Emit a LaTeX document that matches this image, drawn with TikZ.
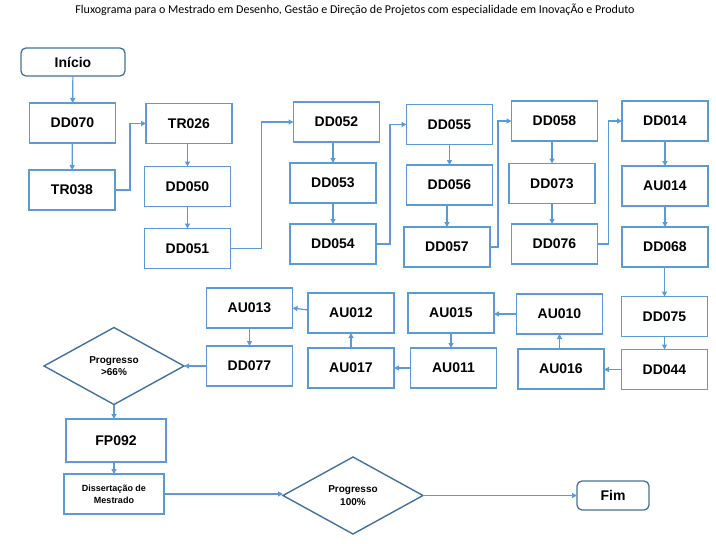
\documentclass[tikz,border=0pt]{standalone}
\usepackage{fontspec}
\setmainfont{Liberation Sans}
\newfontfamily\titlefont{Carlito}
\usetikzlibrary{shapes.geometric,arrows.meta}
\definecolor{boxblue}{HTML}{5B9BD5}
\definecolor{darkblue}{HTML}{41719C}
\begin{document}
\begin{tikzpicture}[x=1pt,y=-1pt,inner sep=0pt,outer sep=0pt,
block/.style={draw=boxblue,rectangle,line width=1.5pt,minimum width=86pt,minimum height=40pt,font=\fontsize{14}{16}\selectfont\bfseries},
startstop/.style={draw=darkblue,rectangle,rounded corners=5pt,line width=1.3pt,font=\fontsize{14}{16}\selectfont\bfseries},
decision/.style={draw=darkblue,diamond,aspect=1.82,line width=1.4pt,minimum width=140pt,minimum height=77pt,align=center,font=\fontsize{10}{12.7}\selectfont\bfseries},
arr/.style={-{Triangle[length=5pt,width=5pt]},draw=boxblue,line width=1.2pt}]
\useasboundingbox (0,0) rectangle (716,544);

\draw (355,10) node[font=\titlefont\fontsize{12}{14}\selectfont] (title) {Fluxograma para o Mestrado em Desenho, Gestão e Direção de Projetos com especialidade em InovaçÃo e Produto};

% primeira fila de colunas
\draw (73,62) node[startstop,minimum width=104pt,minimum height=28pt] (inicio) {Início};
\draw (72.5,123) node[block] (DD070) {DD070};
\draw (72,190) node[block] (TR038) {TR038};
\draw (189,123.5) node[block] (TR026) {TR026};
\draw (187.5,186.5) node[block] (DD050) {DD050};
\draw (187.5,248.5) node[block] (DD051) {DD051};
\draw (336.5,122) node[block] (DD052) {DD052};
\draw (333,183) node[block] (DD053) {DD053};
\draw (333,244) node[block] (DD054) {DD054};
\draw (449.5,124.5) node[block] (DD055) {DD055};
\draw (449.5,185) node[block] (DD056) {DD056};
\draw (447,247) node[block] (DD057) {DD057};
\draw (554.5,121) node[block] (DD058) {DD058};
\draw (552,183.5) node[block] (DD073) {DD073};
\draw (554.5,244) node[block] (DD076) {DD076};
\draw (665,121) node[block] (DD014) {DD014};
\draw (665,186) node[block] (AU014) {AU014};
\draw (665,247) node[block] (DD068) {DD068};

% fila de baixo, da direita para a esquerda
\draw (664.5,316.5) node[block] (DD075) {DD075};
\draw (664.5,369.5) node[block] (DD044) {DD044};
\draw (559.5,314) node[block] (AU010) {AU010};
\draw (561,369) node[block] (AU016) {AU016};
\draw (451,313) node[block] (AU015) {AU015};
\draw (453.5,368) node[block] (AU011) {AU011};
\draw (351,313) node[block] (AU012) {AU012};
\draw (351,368) node[block] (AU017) {AU017};
\draw (249.5,308) node[block] (AU013) {AU013};
\draw (249.5,366) node[block] (DD077) {DD077};
\draw (114,366) node[decision] (prog66) {Progresso\\>66\%};
\draw (116,440.5) node[block,minimum width=100pt,minimum height=43pt] (FP092) {FP092};
\draw (114,494) node[block,minimum width=100pt,align=center,font=\fontsize{9}{12}\selectfont\bfseries] (dissert) {Dissertação de\\Mestrado};
\draw (353,495.5) node[decision] (prog100) {Progresso\\100\%};
\draw (613,495.5) node[startstop,minimum width=72pt,minimum height=29pt] (fim) {Fim};

\draw[arr] (inicio) -- (DD070);
\draw[arr] (DD070) -- (TR038);
\draw[arr] (TR038.east) -- ++(15,0) |- (TR026.west);
\draw[arr] (TR026.south -| DD050.north) -- (DD050.north);
\draw[arr] (DD050) -- (DD051);
\draw[arr] (DD051.east) -- ++(31,0) |- (DD052.west);
\draw[arr] (DD052.south -| DD053.north) -- (DD053.north);
\draw[arr] (DD053) -- (DD054);
\draw[arr] (DD054.east) -- ++(14,0) |- (DD055.west);
\draw[arr] (DD055) -- (DD056);
\draw[arr] (DD056.south -| DD057.north) -- (DD057.north);
\draw[arr] (DD057.east) -- ++(8,0) |- (DD058.west);
\draw[arr] (DD058.south -| DD073.north) -- (DD073.north);
\draw[arr] (DD073.south) -- (DD073.south |- DD076.north);
\draw[arr] (DD076.east) -- ++(11,0) |- (DD014.west);
\draw[arr] (DD014) -- (AU014);
\draw[arr] (AU014) -- (DD068);
\draw[arr] (DD068.south -| DD075.north) -- (DD075.north);
\draw[arr] (DD075) -- (DD044);
\draw[arr] (DD044.west) -- (DD044.west -| AU016.east);
\draw[arr] (AU016.north -| AU010.south) -- (AU010.south);
\draw[arr] (AU010.west) -- (AU010.west -| AU015.east);
\draw[arr] (AU015.south) -- (AU015.south |- AU011.north);
\draw[arr] (AU011.west) -- (AU011.west -| AU017.east);
\draw[arr] (AU017) -- (AU012);
\draw[arr] (AU012.west) ++(0,-3) -- (AU013.east);
\draw[arr] (AU013) -- (DD077);
\draw[arr] (DD077) -- (prog66);
\draw[arr] (prog66.south) -- (prog66.south |- FP092.north);
\draw[arr] (FP092.south -| dissert.north) -- (dissert.north);
\draw[arr] (dissert.east) -- (dissert.east -| prog100.west);
\draw[arr] (prog100.east) -- (prog100.east -| fim.west);
\end{tikzpicture}
\end{document}
